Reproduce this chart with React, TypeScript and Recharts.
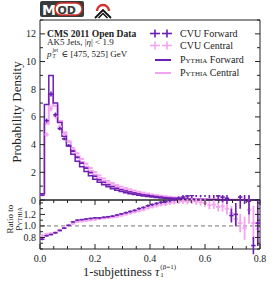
import { ComposedChart, Line, Scatter, XAxis, YAxis, ErrorBar, ReferenceLine, ReferenceArea } from 'recharts'

const SERIF = "'Liberation Serif', 'DejaVu Serif', serif"
const INK = '#222'
const FWD = '#6c1fb0'
const CEN = '#f4a4f0'

// histogram binning in tau_1
const BIN_W = 0.016
const binLo = Array.from({ length: 50 }, (_, i) => i * BIN_W)

const xTicks = [0, 0.05, 0.1, 0.15, 0.2, 0.25, 0.3, 0.35, 0.4, 0.45, 0.5, 0.55, 0.6, 0.65, 0.7, 0.75, 0.8]
const xLabels = [0, 0.2, 0.4, 0.6, 0.8]
const mainYTicks = [0, 1, 2, 3, 4, 5, 6, 7, 8, 9, 10, 11, 12, 13]
const mainYLabels = [0, 2, 4, 6, 8, 10, 12]
const ratioYTicks = [0.6, 0.7, 0.8, 0.9, 1.0, 1.1, 1.2, 1.3, 1.4]
const ratioYLabels = [0.8, 1.0, 1.2]

const pythiaFwd = [
  0.45, 6.9, 9.0, 7.0, 5.6, 4.6, 3.9, 3.3, 2.8, 2.4,
  2.05, 1.75, 1.5, 1.28, 1.1, 0.95, 0.82, 0.71, 0.61, 0.53,
  0.46, 0.4, 0.34, 0.29, 0.25, 0.21, 0.18, 0.15, 0.12, 0.1,
  0.085, 0.072, 0.06, 0.05, 0.042, 0.035, 0.029, 0.024, 0.02, 0.017,
  0.014, 0.012, 0.01, 0.008, 0.0065, 0.0055, 0.0045, 0.0035, 0.003, 0.0025,
]
const pythiaCen = [
  0.4, 5.5, 7.6, 6.8, 5.7, 4.9, 4.2, 3.6, 3.15, 2.75,
  2.4, 2.1, 1.82, 1.58, 1.38, 1.21, 1.06, 0.93, 0.82, 0.72,
  0.63, 0.55, 0.48, 0.42, 0.36, 0.31, 0.27, 0.23, 0.2, 0.17,
  0.145, 0.125, 0.105, 0.09, 0.077, 0.065, 0.055, 0.047, 0.04, 0.034,
  0.029, 0.024, 0.02, 0.017, 0.014, 0.012, 0.01, 0.008, 0.007, 0.006,
]
const cvuFwd = [
  0.35, 5.73, 7.65, 6.16, 5.15, 4.42, 3.94, 3.53, 3.08, 2.66,
  2.3, 1.98, 1.71, 1.46, 1.27, 1.1, 0.96, 0.84, 0.74, 0.65,
  0.58, 0.51, 0.44, 0.38, 0.34, 0.29, 0.25, 0.21, 0.17, 0.144,
  0.124, 0.107, 0.09, 0.076, 0.064, 0.054, 0.045, 0.037, 0.031, 0.026,
  0.021, 0.018, 0.015, 0.0094, 0.0078, 0.0083, 0.0064, 0.005, 0.002, 0.0026,
]
const cvuCen = [
  0.33, 4.73, 6.61, 6.05, 5.3, 4.75, 4.24, 3.74, 3.37, 2.97,
  2.62, 2.31, 2.02, 1.77, 1.56, 1.38, 1.22, 1.08, 0.97, 0.86,
  0.77, 0.68, 0.6, 0.54, 0.47, 0.41, 0.36, 0.32, 0.28, 0.24,
  0.2, 0.18, 0.15, 0.128, 0.11, 0.092, 0.078, 0.066, 0.054, 0.047,
  0.039, 0.032, 0.026, 0.021, 0.016, 0.013, 0.0096, 0.01, 0.0074, 0.0057,
]
const cvuFwdErr = [
  0.05, 0.15, 0.18, 0.15, 0.12, 0.1, 0.09, 0.08, 0.07, 0.06,
  0.05, 0.045, 0.04, 0.035, 0.03, 0.03, 0.025, 0.025, 0.02, 0.02,
  0.02, 0.018, 0.016, 0.015, 0.014, 0.013, 0.012, 0.011, 0.01, 0.009,
  0.008, 0.008, 0.007, 0.007, 0.006, 0.006, 0.005, 0.005, 0.004, 0.004,
  0.004, 0.003, 0.003, 0.003, 0.003, 0.002, 0.002, 0.002, 0.002, 0.002,
]
const cvuCenErr = [
  0.05, 0.16, 0.2, 0.17, 0.14, 0.12, 0.1, 0.09, 0.08, 0.07,
  0.06, 0.055, 0.05, 0.045, 0.04, 0.035, 0.03, 0.028, 0.025, 0.023,
  0.021, 0.02, 0.018, 0.017, 0.016, 0.015, 0.014, 0.013, 0.012, 0.011,
  0.01, 0.009, 0.008, 0.008, 0.007, 0.007, 0.006, 0.006, 0.005, 0.005,
  0.005, 0.004, 0.004, 0.004, 0.003, 0.003, 0.003, 0.003, 0.002, 0.002,
]
const ratioFwd = [
  0.77, 0.83, 0.85, 0.88, 0.92, 0.96, 1.01, 1.07, 1.1, 1.11,
  1.12, 1.13, 1.14, 1.14, 1.15, 1.16, 1.17, 1.19, 1.21, 1.23,
  1.25, 1.27, 1.3, 1.32, 1.35, 1.37, 1.39, 1.41, 1.42, 1.44,
  1.46, 1.48, 1.5, 1.52, 1.53, 1.55, 1.55, 1.56, 1.55, 1.55,
  1.52, 1.5, 1.48, 1.18, 1.2, 1.5, 1.6, 1.43, 0.66, 1.05,
]
const ratioFwdErr = [
  0.02, 0.015, 0.012, 0.012, 0.012, 0.012, 0.012, 0.012, 0.012, 0.012,
  0.012, 0.012, 0.012, 0.012, 0.013, 0.013, 0.014, 0.014, 0.015, 0.015,
  0.016, 0.017, 0.018, 0.019, 0.02, 0.021, 0.022, 0.024, 0.026, 0.028,
  0.03, 0.033, 0.036, 0.04, 0.044, 0.048, 0.053, 0.06, 0.065, 0.07,
  0.08, 0.09, 0.1, 0.12, 0.2, 0.2, 0.22, 0.23, 0.15, 0.4,
]
const ratioCen = [
  0.83, 0.86, 0.87, 0.89, 0.93, 0.97, 1.01, 1.04, 1.07, 1.08,
  1.09, 1.1, 1.11, 1.12, 1.13, 1.14, 1.15, 1.16, 1.18, 1.2,
  1.22, 1.24, 1.26, 1.28, 1.31, 1.33, 1.35, 1.37, 1.38, 1.4,
  1.41, 1.42, 1.43, 1.42, 1.43, 1.42, 1.41, 1.4, 1.36, 1.37,
  1.33, 1.34, 1.3, 1.22, 1.12, 1.05, 0.96, 1.28, 1.05, 0.95,
]
const ratioCenErr = [
  0.03, 0.02, 0.018, 0.018, 0.018, 0.018, 0.018, 0.018, 0.018, 0.018,
  0.018, 0.018, 0.018, 0.018, 0.019, 0.019, 0.02, 0.02, 0.021, 0.022,
  0.023, 0.024, 0.025, 0.026, 0.027, 0.028, 0.03, 0.032, 0.034, 0.036,
  0.038, 0.04, 0.043, 0.046, 0.05, 0.055, 0.06, 0.065, 0.07, 0.075,
  0.08, 0.09, 0.1, 0.12, 0.14, 0.16, 0.2, 0.24, 0.3, 0.3,
]

const stepData = (vals: number[]) => [
  ...binLo.map((x, i) => ({ x, y: vals[i] })),
  { x: 0.8, y: vals[vals.length - 1] },
]
const pointData = (vals: number[], errs: number[]) =>
  binLo.map((lo, i) => ({ x: lo + BIN_W / 2, y: vals[i], ex: BIN_W / 2, ey: errs[i] }))

const near = (list: number[], v: number) => list.some(t => Math.abs(t - v) < 1e-6)
const noDot = () => <g />

// inward ticks on bottom and top edges
function xTick(top: number, showLabels: boolean) {
  return (p: any) => {
    const { x, y, payload } = p
    const major = near(xLabels, payload.value)
    const len = major ? 5 : 3
    return (
      <g>
        <line x1={x} x2={x} y1={y} y2={y - len} stroke={INK} />
        <line x1={x} x2={x} y1={top} y2={top + len} stroke={INK} />
        {showLabels && major && (
          <text x={x} y={y + 13} textAnchor="middle" fontSize={10} fontFamily={SERIF} fill={INK}>
            {payload.value.toFixed(1)}
          </text>
        )}
      </g>
    )
  }
}

// inward ticks on left and right edges
function yTick(right: number, labels: number[], digits: number) {
  return (p: any) => {
    const { x, y, payload } = p
    const major = near(labels, payload.value)
    const len = major ? 5 : 3
    return (
      <g>
        <line x1={x} x2={x + len} y1={y} y2={y} stroke={INK} />
        <line x1={right - len} x2={right} y1={y} y2={y} stroke={INK} />
        {major && (
          <text x={x - 4} y={y} dy="0.35em" textAnchor="end" fontSize={10} fontFamily={SERIF} fill={INK}>
            {payload.value.toFixed(digits)}
          </text>
        )}
      </g>
    )
  }
}

function Logos() {
  return (
    <svg width={274} height={20} style={{ position: 'absolute', left: 0, top: 0 }}>
      <rect x={40} y={1} width={44} height={16} rx={2} fill="#3a3a3a" />
      <text x={42} y={15} fontFamily="'DejaVu Sans', sans-serif" fontWeight="bold" fontSize={14} fill="#fff">M</text>
      <rect x={55} y={3} width={27} height={12} rx={6} fill="#fff" stroke="#d0312d" strokeWidth={1.5} />
      <text x={57.5} y={13.5} fontFamily="'DejaVu Sans', sans-serif" fontWeight="bold" fontSize={11} fill="#3a3a3a">OD</text>
      <path d="M 97 11 A 6 6 0 1 1 109 11" fill="none" stroke="#d0312d" strokeWidth={2.4} />
      <path d="M 95 18 L 103 10 L 111 18" fill="none" stroke="#111" strokeWidth={1.8} />
      <path d="M 98.5 18 L 103 13.5 L 107.5 18" fill="none" stroke="#111" strokeWidth={1.5} />
    </svg>
  )
}

function Legend() {
  const cross = (x: number, y: number, c: string) => (
    <g stroke={c} strokeWidth={1.6}>
      <line x1={x - 5} x2={x + 5} y1={y} y2={y} />
      <line x1={x} x2={x} y1={y - 4} y2={y + 4} />
    </g>
  )
  return (
    <svg width={274} height={287} style={{ position: 'absolute', left: 0, top: 0 }}>
      {cross(155, 33.5, FWD)}
      {cross(167, 33.5, FWD)}
      {cross(155, 45.5, CEN)}
      {cross(167, 45.5, CEN)}
      <line x1={155} x2={171} y1={60} y2={60} stroke={FWD} strokeWidth={2} />
      <line x1={155} x2={171} y1={73} y2={73} stroke={CEN} strokeWidth={2} />
      <text transform="translate(21,112) rotate(-90)" textAnchor="middle" fontSize={13} fontFamily={SERIF} fill={INK}>
        Probability Density
      </text>
      <text transform="translate(13,219) rotate(-90)" textAnchor="middle" fontSize={9} fontFamily={SERIF} fill={INK}>
        Ratio to
      </text>
      <text transform="translate(22,219) rotate(-90)" textAnchor="middle" fontSize={9} fontFamily={SERIF} fill={INK} style={{ fontVariant: 'small-caps' }}>
        Pythia
      </text>
    </svg>
  )
}

const txt = (left: number, top: number, size: number, extra: any = {}) => ({
  position: 'absolute' as const, left, top, fontSize: size, lineHeight: 1, whiteSpace: 'nowrap' as const, fontFamily: SERIF, color: INK, ...extra,
})

// sub/superscript pair that does not grow the line box
function Stack({ sup, sub, size, w, supTop }: { sup: any; sub: any; size: number; w: number; supTop: number }) {
  return (
    <span style={{ position: 'relative', display: 'inline-block', width: w, height: '1em', verticalAlign: 'top' }}>
      <span style={{ position: 'absolute', left: 1, top: supTop, fontSize: size, lineHeight: 1 }}>{sup}</span>
      <span style={{ position: 'absolute', left: 1, top: size * 0.8, fontSize: size, lineHeight: 1 }}>{sub}</span>
    </span>
  )
}

export default function App() {
  return (
    <div style={{ position: 'absolute', left: 0, top: 0, width: 274, height: 287, background: '#fff', overflow: 'hidden' }}>
      <Logos />
      <div style={{ position: 'absolute', left: 0, top: 0 }}>
        <ComposedChart width={274} height={210} margin={{ top: 20, right: 14, bottom: 10, left: 0 }}>
          <XAxis type="number" dataKey="x" domain={[0, 0.8]} ticks={xTicks} interval={0} height={0} tickSize={0} tickMargin={0} axisLine={false} tickLine={false} tick={xTick(20, false)} />
          <YAxis type="number" domain={[0, 13]} ticks={mainYTicks} interval={0} width={40} tickSize={0} tickMargin={0} axisLine={false} tickLine={false} tick={yTick(260, mainYLabels, 0)} />
          <Line data={stepData(pythiaCen)} dataKey="y" type="stepAfter" stroke={CEN} strokeWidth={2} dot={false} isAnimationActive={false} />
          <Line data={stepData(pythiaFwd)} dataKey="y" type="stepAfter" stroke={FWD} strokeWidth={1.5} dot={false} isAnimationActive={false} />
          <Scatter data={pointData(cvuCen, cvuCenErr)} dataKey="y" shape={noDot} isAnimationActive={false}>
            <ErrorBar dataKey="ex" direction="x" width={0} stroke={CEN} strokeWidth={1.8} />
            <ErrorBar dataKey="ey" direction="y" width={0} stroke={CEN} strokeWidth={1.8} />
          </Scatter>
          <Scatter data={pointData(cvuFwd, cvuFwdErr)} dataKey="y" shape={noDot} isAnimationActive={false}>
            <ErrorBar dataKey="ex" direction="x" width={0} stroke={FWD} strokeWidth={1.6} />
            <ErrorBar dataKey="ey" direction="y" width={0} stroke={FWD} strokeWidth={1.6} />
          </Scatter>
          <ReferenceArea x1={0} x2={0.8} y1={0} y2={13} fill="none" stroke={INK} strokeWidth={1} />
        </ComposedChart>
      </div>
      <div style={{ position: 'absolute', left: 0, top: 195 }}>
        <ComposedChart width={274} height={92} margin={{ top: 5, right: 14, bottom: 0, left: 0 }}>
          <XAxis type="number" dataKey="x" domain={[0, 0.8]} ticks={xTicks} interval={0} height={38} tickSize={0} tickMargin={0} axisLine={false} tickLine={false} tick={xTick(5, true)} />
          <YAxis type="number" domain={[0.6, 1.45]} allowDataOverflow ticks={ratioYTicks} interval={0} width={40} tickSize={0} tickMargin={0} axisLine={false} tickLine={false} tick={yTick(260, ratioYLabels, 1)} />
          <ReferenceLine y={1} stroke="#777" strokeDasharray="4 3" strokeWidth={1} />
          <Scatter data={pointData(ratioCen, ratioCenErr)} dataKey="y" shape={noDot} isAnimationActive={false}>
            <ErrorBar dataKey="ex" direction="x" width={0} stroke={CEN} strokeWidth={1.8} />
            <ErrorBar dataKey="ey" direction="y" width={0} stroke={CEN} strokeWidth={1.8} />
          </Scatter>
          <Scatter data={pointData(ratioFwd, ratioFwdErr)} dataKey="y" shape={noDot} isAnimationActive={false}>
            <ErrorBar dataKey="ex" direction="x" width={0} stroke={FWD} strokeWidth={1.6} />
            <ErrorBar dataKey="ey" direction="y" width={0} stroke={FWD} strokeWidth={1.6} />
          </Scatter>
          <ReferenceArea x1={0} x2={0.8} y1={0.6} y2={1.45} fill="none" stroke={INK} strokeWidth={1} />
        </ComposedChart>
      </div>
      <Legend />
      <div style={txt(47, 28.5, 9.6, { fontWeight: 'bold' })}>CMS 2011 Open Data</div>
      <div style={txt(47, 38.3, 9)}>AK5 Jets, |<i>η</i>| &lt; 1.9</div>
      <div style={txt(47, 49.5, 9)}>
        <i>p</i>
        <Stack sup="jet" sub={<i>T</i>} size={5.5} w={10} supTop={-1.5} />∈ [475, 525] GeV
      </div>
      <div style={txt(180, 28.5, 10)}>CVU Forward</div>
      <div style={txt(180, 40.5, 10)}>CVU Central</div>
      <div style={txt(180, 55, 10)}><span style={{ fontVariant: 'small-caps' }}>Pythia</span> Forward</div>
      <div style={txt(180, 68, 10)}><span style={{ fontVariant: 'small-caps' }}>Pythia</span> Central</div>
      <div style={txt(83, 266, 12.5)}>
        1-subjettiness <i>τ</i>
        <Stack sup="(β=1)" sub="1" size={7} w={30} supTop={-2} />
      </div>
    </div>
  )
}
